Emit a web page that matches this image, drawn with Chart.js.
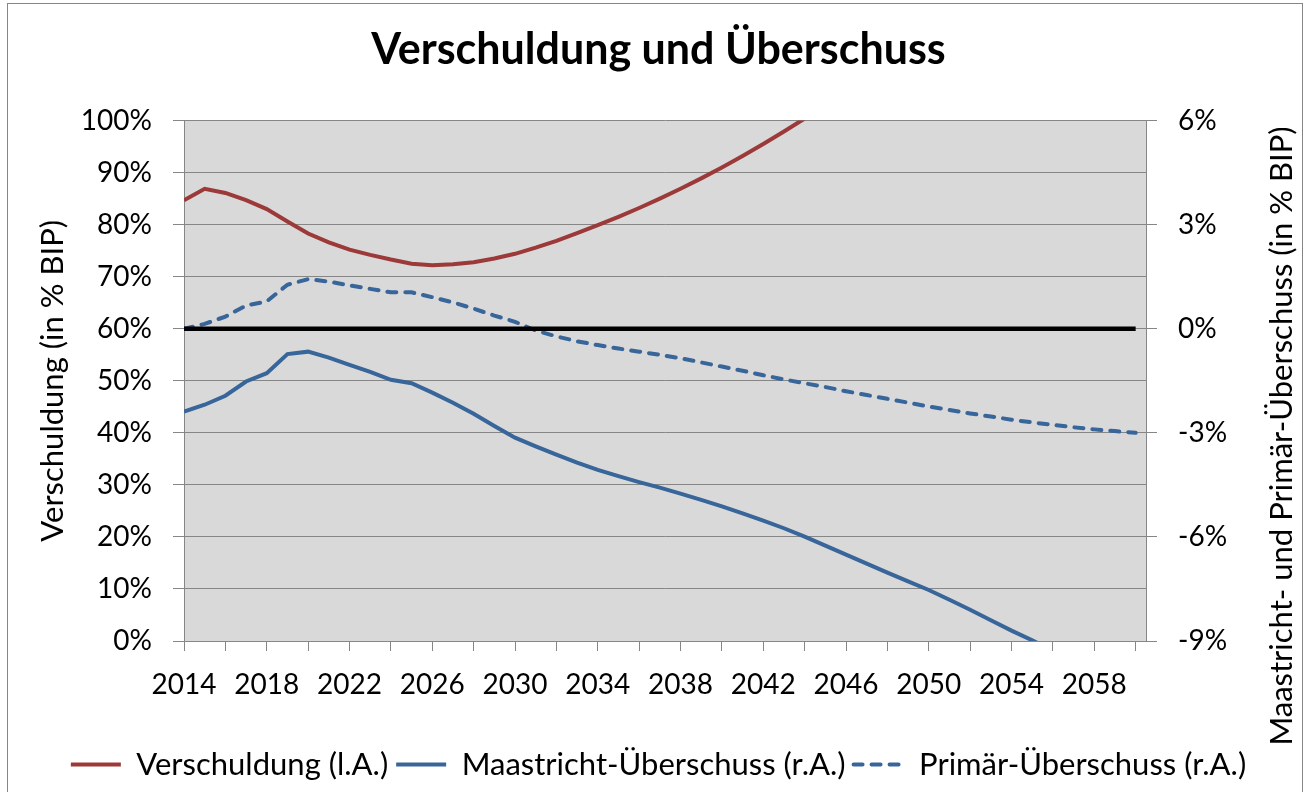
<!DOCTYPE html>
<html lang="de">
<head>
<meta charset="utf-8">
<title>Verschuldung und Überschuss</title>
<script src="https://cdn.jsdelivr.net/npm/chart.js@4/dist/chart.umd.min.js"></script>
<style>
  html, body { margin: 0; padding: 0; background: #fff; }
  #wrap { width: 1310px; height: 792px; position: relative; }
</style>
</head>
<body>
<div id="wrap"><canvas id="chart1"></canvas></div>
<script>
// Jahre 2014 - 2060
const jahre = [2014, 2015, 2016, 2017, 2018, 2019, 2020, 2021, 2022, 2023, 2024, 2025, 2026, 2027, 2028, 2029, 2030,
  2031, 2032, 2033, 2034, 2035, 2036, 2037, 2038, 2039, 2040, 2041, 2042, 2043, 2044, 2045, 2046, 2047, 2048, 2049, 2050,
  2051, 2052, 2053, 2054, 2055, 2056, 2057, 2058, 2059, 2060];

// Verschuldung in % BIP (linke Achse)
const verschuldung = [84.7, 86.9, 86.1, 84.7, 83.0, 80.6, 78.3, 76.6, 75.2, 74.2, 73.3, 72.5, 72.2, 72.4, 72.8, 73.5, 74.4,
  75.6, 76.9, 78.4, 79.9, 81.5, 83.2, 85.0, 86.9, 88.9, 91.0, 93.2, 95.5, 97.9, 100.4, 103.0, 105.7, null, null, null, null,
  null, null, null, null, null, null, null, null, null, null];

// Maastricht-Überschuss in % BIP (rechte Achse)
const maastricht = [-2.39, -2.19, -1.93, -1.52, -1.28, -0.73, -0.66, -0.83, -1.04, -1.24, -1.47, -1.57, -1.84, -2.13, -2.45, -2.80, -3.14,
  -3.39, -3.63, -3.86, -4.07, -4.25, -4.42, -4.58, -4.75, -4.93, -5.12, -5.32, -5.53, -5.75, -5.99, -6.25, -6.51, -6.77, -7.03, -7.28, -7.53,
  -7.81, -8.10, -8.40, -8.70, -8.98, -9.28, null, null, null, null];

// Primär-Überschuss in % BIP (rechte Achse)
const primaer = [0.0, 0.14, 0.35, 0.67, 0.79, 1.27, 1.43, 1.36, 1.25, 1.15, 1.05, 1.05, 0.91, 0.76, 0.58, 0.38, 0.20,
  -0.05, -0.22, -0.36, -0.47, -0.57, -0.66, -0.75, -0.85, -0.97, -1.09, -1.21, -1.34, -1.46, -1.57, -1.68, -1.80, -1.91, -2.02, -2.13, -2.24,
  -2.34, -2.44, -2.53, -2.62, -2.70, -2.77, -2.84, -2.90, -2.95, -3.00];

// schwarze Null-Linie (rechte Achse)
const nullLinie = jahre.map(() => 0);

const linksTicks = [0, 10, 20, 30, 40, 50, 60, 70, 80, 90, 100];
const rechtsTicks = [-9, -6, -3, 0, 3, 6];

const FONT = 'Lato';
const GRAU = '#868686';

function punkte(werte) {
  return jahre.map((j, i) => ({ x: j, y: werte[i] }));
}

const hintergrund = {
  id: 'hintergrund',
  beforeDraw(chart) {
    const { ctx, chartArea: a } = chart;
    ctx.save();
    ctx.fillStyle = '#d9d9d9';
    ctx.fillRect(a.left, a.top, a.right - a.left, a.bottom - a.top);
    ctx.restore();
  },
  afterDraw(chart) {
    const { ctx } = chart;
    ctx.save();
    // Rahmen
    ctx.strokeStyle = GRAU;
    ctx.lineWidth = 1;
    ctx.strokeRect(7.5, 3.5, 1295, 820);
    // rechter Achsentitel, von unten nach oben gelesen
    ctx.translate(1292, 436);
    ctx.rotate(-Math.PI / 2);
    ctx.fillStyle = '#000';
    ctx.font = '31px ' + FONT;
    ctx.textAlign = 'center';
    ctx.textBaseline = 'alphabetic';
    ctx.fillText('Maastricht- und Primär-Überschuss (in % BIP)', 0, 0);
    ctx.restore();
  }
};

const ctx = document.getElementById('chart1');
new Chart(ctx, {
  type: 'line',
  data: {
    datasets: [{
      label: 'Null',
      data: punkte(nullLinie),
      yAxisID: 'y2',
      borderColor: '#000',
      borderWidth: 4.5,
      pointRadius: 0
    }, {
      label: 'Verschuldung (l.A.)',
      data: punkte(verschuldung),
      yAxisID: 'y',
      borderColor: '#9b3a38',
      backgroundColor: '#9b3a38',
      borderWidth: 4,
      pointRadius: 0
    }, {
      label: 'Maastricht-Überschuss (r.A.)',
      data: punkte(maastricht),
      yAxisID: 'y2',
      borderColor: '#38659a',
      backgroundColor: '#38659a',
      borderWidth: 4,
      pointRadius: 0
    }, {
      label: 'Primär-Überschuss (r.A.)',
      data: punkte(primaer),
      yAxisID: 'y2',
      borderColor: '#38659a',
      backgroundColor: '#38659a',
      borderWidth: 4,
      borderDash: [9, 9],
      borderCapStyle: 'round',
      pointRadius: 0
    }]
  },
  options: {
    responsive: true,
    maintainAspectRatio: false,
    animation: false,
    events: [],
    layout: { padding: { left: 7, right: 0, top: 0, bottom: 2 } },
    plugins: {
      tooltip: { enabled: false },
      title: {
        display: true,
        text: 'Verschuldung und Überschuss',
        color: '#000',
        font: { family: FONT, size: 43, weight: 'bold' },
        padding: { top: 24, bottom: 45 }
      },
      legend: {
        position: 'bottom',
        labels: {
          filter: (item) => item.text !== 'Null',
          generateLabels: (chart) => {
            const items = Chart.defaults.plugins.legend.labels.generateLabels(chart);
            items.forEach(it => {
              const ds = chart.data.datasets[it.datasetIndex];
              it.lineDash = ds.borderDash || [];
              it.lineCap = ds.borderDash ? 'round' : 'butt';
              it.lineWidth = 4;
              it.strokeStyle = ds.borderColor;
            });
            return items;
          },
          usePointStyle: true,
          pointStyle: 'line',
          pointStyleWidth: 50,
          padding: 8,
          color: '#000',
          font: { family: FONT, size: 31 }
        }
      }
    },
    scales: {
      x: {
        type: 'linear',
        min: 2014,
        max: 2060.5,
        afterBuildTicks: (scale) => {
          scale.ticks = jahre.filter(j => (j - 2014) % 2 === 0).map(j => ({ value: j }));
        },
        afterFit: (scale) => { scale.height = 100; },
        ticks: {
          autoSkip: false,
          maxRotation: 0,
          padding: 17,
          color: '#000',
          font: { family: FONT, size: 28 },
          callback: (v) => ((v - 2014) % 4 === 0 ? String(v) : '')
        },
        grid: { drawOnChartArea: false, tickLength: 10, color: GRAU },
        border: { color: GRAU }
      },
      y: {
        position: 'left',
        min: 0,
        max: 100,
        afterBuildTicks: (scale) => { scale.ticks = linksTicks.map(v => ({ value: v })); },
        afterFit: (scale) => { scale.width = 177; },
        ticks: {
          padding: 21,
          color: '#000',
          font: { family: FONT, size: 28 },
          callback: (v) => v + '%'
        },
        grid: { color: GRAU, tickLength: 11 },
        border: { color: GRAU },
        title: {
          display: true,
          text: 'Verschuldung (in % BIP)',
          color: '#000',
          font: { family: FONT, size: 31 },
          padding: { top: 27, bottom: 0 }
        }
      },
      y2: {
        position: 'right',
        min: -9,
        max: 6,
        afterBuildTicks: (scale) => { scale.ticks = rechtsTicks.map(v => ({ value: v })); },
        afterFit: (scale) => { scale.width = 164; },
        ticks: {
          padding: 21,
          color: '#000',
          font: { family: FONT, size: 28 },
          callback: (v) => v + '%'
        },
        grid: { drawOnChartArea: false, color: GRAU, tickLength: 11 },
        border: { color: GRAU }
      }
    }
  },
  plugins: [hintergrund]
});
</script>
</body>
</html>
